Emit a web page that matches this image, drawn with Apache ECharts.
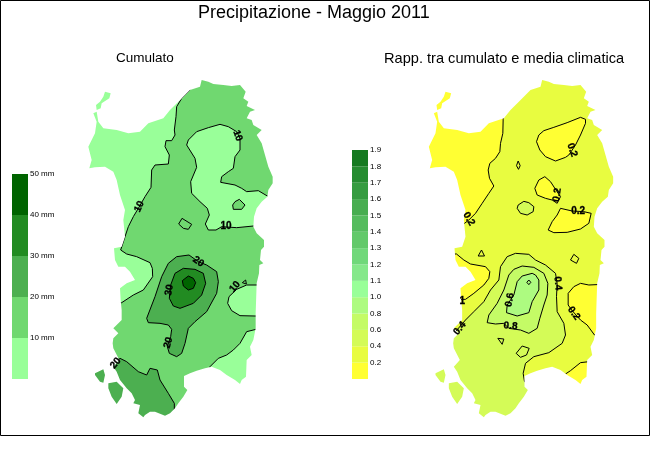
<!DOCTYPE html>
<html lang="it">
<head>
  <meta charset="UTF-8" />
  <title>Precipitazione - Maggio 2011</title>
  <script src="https://cdn.jsdelivr.net/npm/echarts@6/dist/echarts.min.js"></script>
  <style>
    html, body { margin: 0; padding: 0; background: #fff; }
    #chart { width: 650px; height: 450px; }
  </style>
</head>
<body>
  <div id="chart"></div>
  <script>
    // map units are 3x screen pixels
    var coastMain = [[365,0],[385,5],[400,12],[430,15],[455,18],[480,15],[497,35],[490,55],[505,65],[500,78],[525,90],[510,95],[500,115],[515,120],[520,135],[545,150],[530,165],[545,190],[555,225],[565,260],[578,290],[578,310],[565,330],[562,350],[545,365],[530,385],[522,410],[520,440],[530,460],[552,480],[552,500],[543,510],[540,540],[550,550],[538,555],[537,580],[530,610],[527,700],[527,745],[520,780],[510,800],[515,825],[500,840],[498,890],[485,900],[480,912],[465,900],[440,885],[420,870],[395,860],[375,865],[350,872],[330,880],[312,888],[312,920],[322,930],[310,950],[295,970],[285,985],[270,1000],[255,1007],[225,995],[210,995],[195,1005],[190,1012],[175,1000],[180,975],[160,970],[165,960],[155,940],[140,925],[120,900],[110,875],[100,860],[118,840],[100,805],[98,790],[100,775],[115,760],[100,745],[125,720],[125,690],[122,660],[120,625],[140,610],[165,600],[150,575],[135,560],[115,560],[105,540],[102,505],[125,500],[135,470],[130,420],[135,390],[120,345],[110,300],[100,275],[75,260],[45,262],[28,265],[35,240],[25,200],[45,160],[50,125],[40,100],[50,95],[55,125],[70,145],[110,150],[145,160],[180,155],[205,130],[250,115],[270,90],[295,65],[330,30],[360,20]];
    var isleAsinara = [[75,35],[92,40],[88,55],[65,70],[62,85],[50,90],[48,75],[60,65],[70,50]];
    var isleSanPietro = [[45,880],[70,868],[75,885],[70,908],[60,905],[45,885]];
    var isleSantAntioco = [[85,910],[110,905],[130,925],[125,950],[110,972],[95,950],[85,925]];

    // Cumulato contours
    var cumWest = [[330,30],[305,55],[290,80],[288,110],[283,150],[285,165],[275,182],[258,182],[255,200],[268,225],[265,252],[225,255],[215,270],[213,322],[195,350],[175,385],[160,410],[145,440],[135,470],[122,510],[140,522],[170,530],[210,548],[217,565],[218,590],[190,630],[160,645],[125,668],[20,668],[20,-20],[330,-20]];
    var cumNorthEast = [[420,133],[385,143],[350,155],[325,180],[320,195],[345,235],[350,262],[332,305],[335,340],[360,365],[382,385],[388,405],[376,432],[385,450],[408,450],[425,440],[470,443],[520,438],[610,438],[610,348],[562,348],[535,332],[500,335],[485,325],[465,315],[422,307],[425,290],[445,275],[460,265],[465,230],[480,210],[480,175],[470,155],[445,140]];
    var cumHole = [[478,358],[495,375],[485,388],[460,388],[458,375],[465,365]];
    var cumRing = [[306,415],[335,433],[325,448],[310,445],[296,432]];
    var cumEast = [[610,615],[500,615],[470,628],[447,650],[443,670],[455,692],[480,707],[610,710]];
    var cumTick = [[487,608],[497,600],[499,612]];
    var cumSouthEast = [[610,748],[528,748],[500,755],[480,790],[460,810],[440,825],[415,835],[390,860],[400,930],[610,930]];
    var cumSouthWest = [[95,860],[120,835],[140,845],[175,875],[200,885],[210,865],[232,870],[240,900],[265,940],[283,970],[283,1015],[20,1015],[20,860]];
    var cum20 = [[327,525],[290,530],[265,550],[245,590],[225,650],[200,715],[205,728],[240,730],[265,735],[275,748],[272,770],[262,800],[268,820],[290,830],[305,820],[315,790],[325,745],[345,725],[380,695],[410,640],[415,605],[410,575],[380,555],[355,545]];
    var cum30 = [[310,565],[285,580],[272,615],[268,655],[280,678],[300,685],[340,670],[365,645],[377,610],[370,580],[345,568]];
    var cum40 = [[325,588],[307,602],[310,618],[325,630],[340,625],[347,608],[340,595]];
    var cumLabels = [[473,167,'10',-70],[178,380,'10',65],[438,440,'10',0],[355,545,'20',-35],[268,630,'30',80],[465,620,'10',50],[265,788,'20',75],[107,850,'20',50]];

    // Rapporto contours
    var ratWest = [[248,118],[247,160],[240,190],[238,215],[225,235],[208,250],[203,270],[207,295],[220,318],[205,340],[185,370],[165,400],[145,420],[132,430],[20,430],[20,20],[248,20]];
    var ratNorthEast = [[480,112],[440,128],[400,142],[370,152],[355,165],[348,185],[358,210],[375,230],[405,243],[435,232],[445,225],[465,195],[480,165],[495,130],[495,118]];
    var ratMiddle = [[373,290],[355,300],[343,325],[350,345],[375,355],[395,360],[410,370],[420,350],[405,328],[390,305]];
    var ratSouthMiddle = [[420,385],[455,393],[490,395],[512,400],[505,430],[480,447],[440,457],[400,458],[383,450],[395,425],[410,405]];
    var ratSpot = [[310,364],[293,375],[290,385],[300,400],[320,405],[338,395],[340,380],[325,368]];
    var ratDiamond = [[293,243],[299,257],[294,268],[288,257]];
    var ratGulf = [[108,522],[130,540],[150,552],[195,560],[208,575],[205,595],[190,615],[160,640],[135,658],[60,658],[60,522]];
    var ratTriangleA = [[183,510],[192,528],[173,528]];
    var ratRhombus = [[460,523],[475,535],[468,550],[450,540]];
    var rat04 = [[105,755],[135,720],[160,695],[190,665],[210,630],[235,600],[240,560],[260,530],[285,520],[325,523],[345,540],[375,555],[405,580],[410,610],[408,650],[410,695],[430,730],[435,765],[425,790],[385,818],[340,830],[315,850],[308,880],[312,905],[350,900],[350,1040],[20,1040],[20,755]];
    var rat06 = [[305,558],[280,568],[265,585],[250,630],[230,670],[205,705],[200,728],[225,732],[250,730],[265,745],[300,750],[325,760],[350,745],[358,715],[370,675],[380,645],[382,610],[370,580],[340,562]];
    var rat08 = [[335,580],[305,588],[290,605],[280,645],[260,675],[258,698],[290,708],[325,698],[335,665],[355,630],[355,600],[345,585]];
    var ratPeak = [[325,600],[331,607],[325,614],[319,607]];
    var ratTriangleB = [[232,775],[250,777],[245,793]];
    var ratPatch = [[305,798],[326,805],[318,825],[300,832],[287,820]];
    var ratEast = [[610,610],[505,615],[480,610],[460,620],[443,640],[443,675],[455,692],[480,720],[500,735],[522,765],[610,765]];
    var ratSouthEast = [[435,882],[450,872],[480,848],[505,845],[610,845],[610,980],[435,980]];
    var ratLabels = [[455,210,'0.2',-70],[410,345,'0.2',80],[473,393,'0.2',0],[145,417,'0.2',-60],[412,610,'0.4',-85],[460,700,'0.2',-55],[118,745,'0.4',50],[125,663,'1',0],[268,660,'0.6',80],[270,738,'0.8',-5]];

    // legends, bottom to top
    var cumColors = ['#99FF99', '#70D870', '#4CAF50', '#228B22', '#006400'];
    var ratLegendLabels = ['', '0.2', '0.4', '0.6', '0.8', '1.0', '1.1', '1.2', '1.3', '1.4', '1.5', '1.6', '1.7', '1.8', '1.9'];
    var ratColors = ['#FFFF33', '#E8FC40', '#D4FB57', '#C4FB66', '#ADFB80', '#99FF99', '#85E88A', '#70D87A', '#62C96A', '#55BC5E', '#47AD50', '#359C40', '#258C30', '#157A20'];

    var title = 'Precipitazione - Maggio 2011';
    var subLeft = 'Cumulato';
    var subRight = 'Rapp. tra cumulato e media climatica';

    var FONT = '"Liberation Sans", Arial, sans-serif';
    var XMAX = 630, YMIN = -30, YMAX = 1050;

    // sea mask: box with the coast rings cut out of it
    function seaMask() {
      var tl = [0, YMIN];
      var pts = [tl];
      [coastMain, isleAsinara, isleSanPietro, isleSantAntioco].forEach(function (ring) {
        pts = pts.concat(ring, [ring[0], tl]);
      });
      return pts.concat([[0, YMAX], [XMAX, YMAX], [XMAX, YMIN]]);
    }

    function mapSeries(idx, baseColor, shapes, labels) {
      // base sits well inside the mask so no edge shows
      var box = [[10, YMIN + 10], [XMAX - 10, YMIN + 10], [XMAX - 10, YMAX - 10], [10, YMAX - 10]];
      var items = [{ pts: box, fill: baseColor, line: false }].concat(shapes);
      items.push({ pts: seaMask(), fill: '#fff', line: false });
      return {
        type: 'custom',
        coordinateSystem: 'cartesian2d',
        xAxisIndex: idx,
        yAxisIndex: idx,
        silent: true,
        clip: false,
        animation: false,
        data: items.map(function () { return [0, 0]; }).concat(labels.map(function () { return [0, 0]; })),
        renderItem: function (params, api) {
          var i = params.dataIndex;
          if (i < items.length) {
            var it = items[i];
            return {
              type: 'polygon',
              shape: { points: it.pts.map(function (p) { return api.coord(p); }) },
              style: {
                fill: it.fill,
                stroke: it.line === false ? null : '#000',
                lineWidth: 1
              }
            };
          }
          var lab = labels[i - items.length];
          var c = api.coord([lab[0], lab[1]]);
          return {
            type: 'text',
            x: c[0],
            y: c[1],
            rotation: lab[3] * Math.PI / 180,
            style: {
              text: lab[2],
              x: 0,
              y: 0,
              align: 'center',
              verticalAlign: 'middle',
              fill: '#000',
              stroke: '#000',
              lineWidth: 0.3,
              font: 'bold 10px ' + FONT
            }
          };
        }
      };
    }

    function legendSeries(idx, colors, step) {
      return {
        type: 'custom',
        coordinateSystem: 'cartesian2d',
        xAxisIndex: idx,
        yAxisIndex: idx,
        silent: true,
        animation: false,
        data: colors.map(function (c, i) { return [0, i * step]; }),
        renderItem: function (params, api) {
          var i = params.dataIndex;
          var a = api.coord([0, (i + 1) * step]);
          var b = api.coord([1, i * step]);
          return {
            type: 'rect',
            shape: { x: a[0], y: a[1], width: b[0] - a[0], height: b[1] - a[1] },
            style: { fill: colors[i] }
          };
        }
      };
    }

    function hiddenAxes(gridIndex) {
      return {
        x: { type: 'value', gridIndex: gridIndex, min: 0, max: XMAX, show: false },
        y: { type: 'value', gridIndex: gridIndex, min: YMIN, max: YMAX, inverse: true, show: false }
      };
    }

    function legendAxes(gridIndex, max, interval, formatter) {
      return {
        x: { type: 'value', gridIndex: gridIndex, min: 0, max: 1, show: false },
        y: {
          type: 'value',
          gridIndex: gridIndex,
          position: 'right',
          min: 0,
          max: max,
          interval: interval,
          axisLine: { show: false },
          axisTick: { show: false },
          splitLine: { show: false },
          axisLabel: { margin: 2, fontSize: 8, color: '#000', fontFamily: FONT, formatter: formatter }
        }
      };
    }

    var a0 = hiddenAxes(0), a1 = hiddenAxes(1);
    var a2 = legendAxes(2, 50, 10, function (v) { return v === 0 ? '' : v + ' mm'; });
    var a3 = legendAxes(3, 14, 1, function (v) { return ratLegendLabels[v]; });

    function headText(text, left, top, size) {
      return { text: text, left: left, top: top, padding: 0, textStyle: { fontFamily: FONT, fontSize: size, fontWeight: 'normal', color: '#000' } };
    }

    var chart = echarts.init(document.getElementById('chart'), null, { renderer: 'canvas' });
    chart.setOption({
      animation: false,
      backgroundColor: '#fff',
      title: [
        headText(title, 198, 4, 18),
        headText(subLeft, 116, 51, 13.5),
        headText(subRight, 384, 51, 14.6)
      ],
      grid: [
        { left: 80, top: 70, width: 210, height: 360 },
        { left: 420.5, top: 70, width: 210, height: 360 },
        { left: 12, top: 174, width: 16, height: 205 },
        { left: 352, top: 150, width: 16, height: 229 }
      ],
      xAxis: [a0.x, a1.x, a2.x, a3.x],
      yAxis: [a0.y, a1.y, a2.y, a3.y],
      graphic: [{
        type: 'rect',
        silent: true,
        z: 100,
        shape: { x: 0.5, y: 0.5, width: 649, height: 435 },
        style: { fill: null, stroke: '#000', lineWidth: 1 }
      }],
      series: [
        mapSeries(0, '#70D870', [
          { pts: cumWest, fill: '#99FF99' },
          { pts: cumNorthEast, fill: '#99FF99' },
          { pts: cumHole, fill: '#70D870' },
          { pts: cumRing, fill: '#70D870' },
          { pts: cumEast, fill: '#99FF99' },
          { pts: cumTick, fill: '#70D870' },
          { pts: cumSouthEast, fill: '#99FF99' },
          { pts: cumSouthWest, fill: '#4CAF50' },
          { pts: cum20, fill: '#4CAF50' },
          { pts: cum30, fill: '#228B22' },
          { pts: cum40, fill: '#006400' }
        ], cumLabels),
        mapSeries(1, '#E8FC40', [
          { pts: ratWest, fill: '#FFFF33' },
          { pts: ratNorthEast, fill: '#FFFF33' },
          { pts: ratMiddle, fill: '#FFFF33' },
          { pts: ratSouthMiddle, fill: '#FFFF33' },
          { pts: ratSpot, fill: '#D4FB57' },
          { pts: ratDiamond, fill: '#E8FC40' },
          { pts: ratGulf, fill: '#FFFF33' },
          { pts: ratTriangleA, fill: '#E8FC40' },
          { pts: ratRhombus, fill: '#E8FC40' },
          { pts: rat04, fill: '#D4FB57' },
          { pts: rat06, fill: '#C4FB66' },
          { pts: rat08, fill: '#ADFB80' },
          { pts: ratPeak, fill: '#ADFB80' },
          { pts: ratTriangleB, fill: '#D4FB57' },
          { pts: ratPatch, fill: '#D4FB57' },
          { pts: ratEast, fill: '#FFFF33' },
          { pts: ratSouthEast, fill: '#FFFF33' }
        ], ratLabels),
        legendSeries(2, cumColors, 10),
        legendSeries(3, ratColors, 1)
      ]
    });
  </script>
</body>
</html>
